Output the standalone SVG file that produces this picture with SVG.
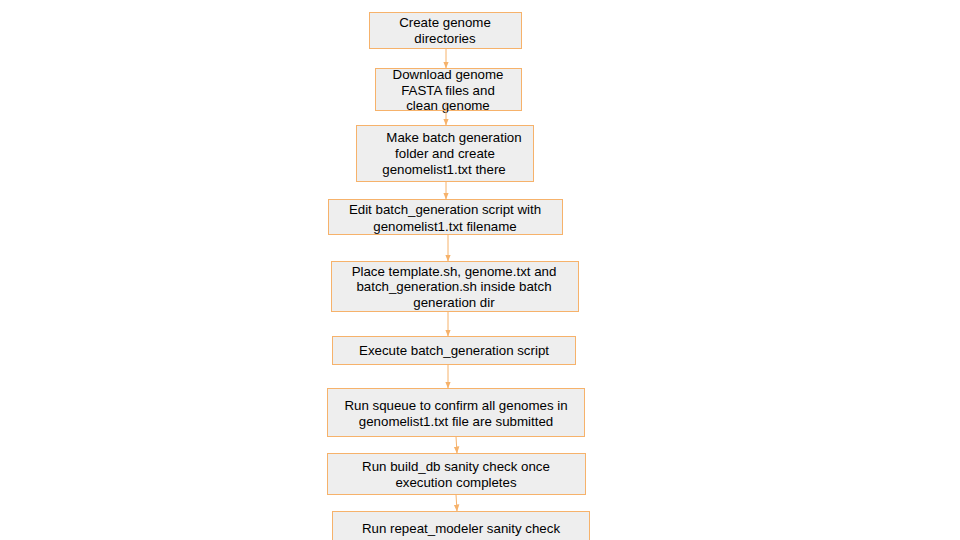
<svg xmlns="http://www.w3.org/2000/svg" width="960" height="540" viewBox="0 0 960 540">
<defs>
<style>
.box{fill:#eeeeee;stroke:#f6b26b;stroke-width:1}
.t{font-family:"Liberation Sans",Arial,sans-serif;font-size:13.3px;fill:#000;text-anchor:middle}
.c{stroke:#f6b26b;stroke-width:1;fill:none;marker-end:url(#ah)}
</style>
<marker id="ah" viewBox="0 0 10 10" refX="10" refY="5" markerWidth="7" markerHeight="7" orient="auto" markerUnits="userSpaceOnUse">
<path d="M0,1 L10,5 L0,9 z" fill="#f6b26b"/>
</marker>
</defs>
<rect width="960" height="540" fill="#ffffff"/>
<g id="n1"><rect class="box" x="369.5" y="12.5" width="152" height="36"/>
<text class="t" x="445" y="27">Create genome</text><text class="t" x="445" y="43">directories</text></g>
<g id="n2"><rect class="box" x="375.5" y="68.5" width="146" height="42"/>
<text class="t" x="448" y="79">Download genome</text><text class="t" x="448" y="95">FASTA files and</text><text class="t" x="448" y="110">clean genome</text></g>
<g id="n3"><rect class="box" x="356.5" y="125.5" width="177" height="56"/>
<text class="t" x="454" y="142">Make batch generation</text><text class="t" x="445" y="158">folder and create</text><text class="t" x="444" y="174">genomelist1.txt there</text></g>
<g id="n4"><rect class="box" x="328.5" y="199.5" width="234" height="35"/>
<text class="t" x="445" y="214">Edit batch_generation script with</text><text class="t" x="445" y="231">genomelist1.txt filename</text></g>
<g id="n5"><rect class="box" x="331.5" y="261.5" width="247" height="50"/>
<text class="t" x="454" y="276">Place template.sh, genome.txt and</text><text class="t" x="454" y="291">batch_generation.sh inside batch</text><text class="t" x="454" y="307">generation dir</text></g>
<g id="n6"><rect class="box" x="332.5" y="336.5" width="243" height="28"/>
<text class="t" x="454" y="355">Execute batch_generation script</text></g>
<g id="n7"><rect class="box" x="327.5" y="388.5" width="257" height="48"/>
<text class="t" x="456" y="410">Run squeue to confirm all genomes in</text><text class="t" x="456" y="426">genomelist1.txt file are submitted</text></g>
<g id="n8"><rect class="box" x="327.5" y="453.5" width="258" height="41"/>
<text class="t" x="456" y="471">Run build_db sanity check once</text><text class="t" x="456" y="487">execution completes</text></g>
<g id="n9"><rect class="box" x="332.5" y="511.5" width="257" height="40"/>
<text class="t" x="461" y="533">Run repeat_modeler sanity check</text></g>
<g id="connectors">
<path class="c" d="M446,48.5 L446,68.5"/>
<path class="c" d="M446,102 L446,125.5"/>
<path class="c" d="M446,181.5 L446,199.5"/>
<path class="c" d="M448,234.5 L448,261.5"/>
<path class="c" d="M448,311.5 L448,336.5"/>
<path class="c" d="M448,364.5 L448,388.5"/>
<path class="c" d="M456,436.5 L457,453.5"/>
<path class="c" d="M456,494.5 L457,511.5"/>
</g>
</svg>
